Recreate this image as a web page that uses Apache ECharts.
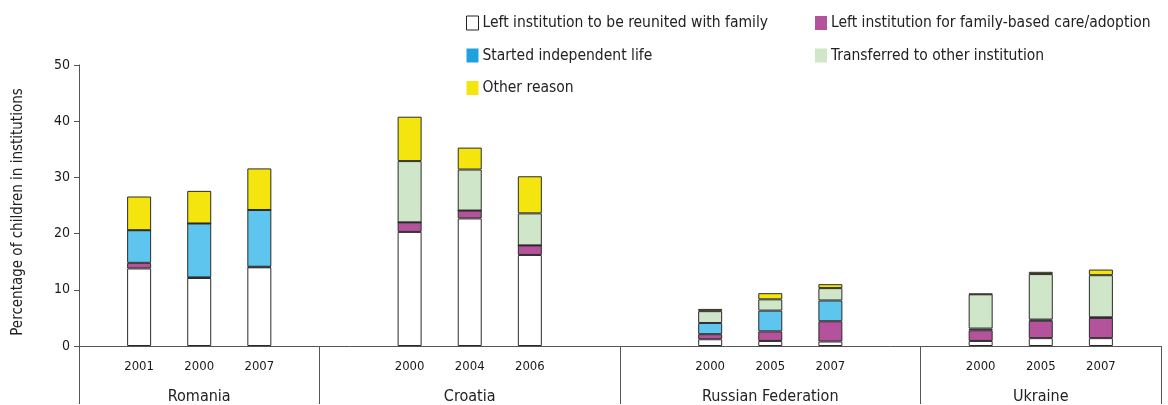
<!DOCTYPE html>
<html><head><meta charset="utf-8">
<script src="https://cdn.jsdelivr.net/npm/echarts@6/dist/echarts.min.js"></script>
<style>html,body{margin:0;padding:0;background:#fff}#c{width:1168px;height:405px}</style>
</head><body><div id="c"></div>
<script>
// ---- data ----
const countries = ['Romania', 'Croatia', 'Russian Federation', 'Ukraine'];
const years = [['2001', '2000', '2007'], ['2000', '2004', '2006'], ['2000', '2005', '2007'], ['2000', '2005', '2007']];
const seriesNames = ['Left institution to be reunited with family', 'Left institution for family-based care/adoption', 'Started independent life', 'Transferred to other institution', 'Other reason'];
const reunited    = [13.8, 12.1, 14.0, 20.3, 22.7, 16.2, 1.2, 0.9, 0.8, 0.9, 1.4, 1.4];
const familyCare  = [1.0, 0.1, 0.1, 1.7, 1.4, 1.7, 0.9, 1.7, 3.6, 1.9, 3.1, 3.6];
const independent = [5.8, 9.6, 10.1, 0, 0, 0, 2.0, 3.7, 3.7, 0.3, 0.2, 0.1];
const transferred = [0, 0, 0, 10.9, 7.3, 5.7, 2.1, 2.0, 2.2, 6.1, 8.1, 7.5];
const other       = [6.0, 5.8, 7.4, 7.9, 3.9, 6.6, 0.4, 1.1, 0.7, 0.1, 0.4, 1.0];
const yTicks = { min: 0, max: 50, interval: 10 };

// ---- layout: slots per country group (bars every 2 slots, centred) ----
const groupSpan = [8, 10, 10, 8];
const yearLabels = [], countryLabels = [], barSlot = [], boundaries = [0];
let start = 0, total = 0;
groupSpan.forEach(s => total += s);
for (let i = 0; i <= total; i++) { yearLabels.push(''); countryLabels.push(''); }
countries.forEach((c, g) => {
  const lead = (groupSpan[g] - 4) / 2;
  years[g].forEach((y, k) => {
    const idx = start + lead + 2 * k;
    yearLabels[idx] = y;
    barSlot.push(idx);
  });
  countryLabels[start + groupSpan[g] / 2] = c;
  start += groupSpan[g];
  boundaries.push(start);
});
function expand(vals) {
  const arr = yearLabels.map(() => '-');
  vals.forEach((v, i) => arr[barSlot[i]] = v);
  return arr;
}
const colors = ['#ffffff', '#b4539b', '#5ec5ee', '#d0e6c9', '#f4e50f'];
const legendColors = ['#ffffff', '#b4539b', '#1ea2dd', '#d0e6c9', '#f4e50f'];
const valueSets = [reunited, familyCare, independent, transferred, other];
const FONT = '"Liberation Sans Narrow", "DejaVu Sans Condensed", "Roboto Condensed", sans-serif';

const chart = echarts.init(document.getElementById('c'), null, { renderer: 'canvas' });
function legendItem(i) {
  return {
    name: seriesNames[i],
    itemStyle: i === 0 ? { color: '#fff', borderColor: '#222', borderWidth: 1 } : { color: legendColors[i], borderWidth: 0 }
  };
}
const legendCommon = {
  orient: 'vertical', itemWidth: 12, itemHeight: 14, itemGap: 16.5,
  icon: 'rect', selectedMode: false,
  textStyle: { fontFamily: FONT, fontSize: 15.5, color: '#222', padding: [0, 0, 0, -1] }
};
chart.setOption({
  animation: false,
  legend: [
    Object.assign({ left: 461, top: 10, data: [0, 2, 4].map(legendItem) }, legendCommon),
    Object.assign({ left: 810, top: 10, data: [1, 3].map(legendItem) }, legendCommon)
  ],
  grid: { left: 79, right: 7, top: 65, bottom: 58, containLabel: false },
  xAxis: [
    {
      type: 'category', data: yearLabels, boundaryGap: false, position: 'bottom',
      axisLine: { lineStyle: { color: '#555', width: 1 } },
      axisTick: { show: false },
      axisLabel: { interval: 0, margin: 14, fontFamily: FONT, fontSize: 13, color: '#1a1a1a' }
    },
    {
      type: 'category', data: countryLabels, boundaryGap: false, position: 'bottom',
      axisLine: { show: false },
      axisTick: { show: true, length: 58, inside: false, interval: (i) => boundaries.indexOf(i) >= 0, lineStyle: { color: '#555', width: 1 } },
      axisLabel: { interval: 0, margin: 43, fontFamily: FONT, fontSize: 16, color: '#222' }
    }
  ],
  yAxis: {
    type: 'value', min: yTicks.min, max: yTicks.max, interval: yTicks.interval,
    name: 'Percentage of children in institutions', nameLocation: 'middle', nameGap: 53,
    nameTextStyle: { fontFamily: FONT, fontSize: 15, color: '#222', padding: [0, 13, 0, 0] },
    axisLine: { show: true, lineStyle: { color: '#555', width: 1 } },
    axisTick: { show: true, length: 5, lineStyle: { color: '#555' } },
    axisLabel: { margin: 9, fontFamily: FONT, fontSize: 14, color: '#1a1a1a' },
    splitLine: { show: false }
  },
  series: valueSets.map((vals, i) => ({
    name: seriesNames[i], type: 'bar', stack: 'total', xAxisIndex: 0,
    barWidth: 24, data: expand(vals),
    itemStyle: { color: colors[i], borderColor: '#2b2b2b', borderWidth: 1 }
  }))
});
</script></body></html>
